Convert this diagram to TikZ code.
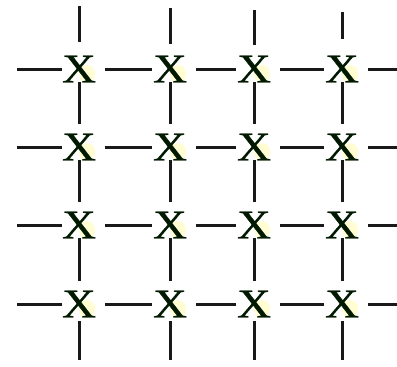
\documentclass[tikz,border=0pt]{standalone}
\usepackage{fontspec}
\setmainfont{Liberation Serif}
\newfontfamily\xfont[FakeBold=0.6]{Liberation Serif}
\begin{document}
\begin{tikzpicture}[x=1bp,y=-1bp,
  xnode/.style={inner sep=0pt, outer sep=0pt, text=black!80!green!50!black,
    font=\xfont\fontsize{41}{41}\selectfont, xscale=1.15,
    path picture={\fill[yellow!18] ([xshift=7bp,yshift=-5bp]path picture bounding box.center) ellipse (7bp and 9bp);}},
  gline/.style={line width=3bp, black!90}]
\useasboundingbox (0,0) rectangle (397,367);
\fill[white] (0,0) rectangle (397,367);
% nodes
\foreach \r/\yy in {1/69,2/147,3/225,4/304}{
  \foreach \c/\xx in {1/79,2/170,3/254,4/342}{
    \node[xnode] (n\r\c) at (\xx,\yy) {X};
  }
}
% free ends
\foreach \c/\xx/\ya/\yb in {1/79/6/42,2/170/8/44,3/254/10/45,4/342/12/39}{
  \coordinate (t\c) at (\xx,\ya);
  \coordinate (tb\c) at (\xx,\yb);
  \coordinate (b\c) at (\xx,360);
}
\foreach \r/\yy in {1/69,2/147,3/225,4/304}{
  \coordinate (l\r) at (17,\yy);
  \coordinate (r\r) at (397,\yy);
}
% top and bottom stubs
\foreach \c in {1,2,3,4}{
  \draw[gline] (t\c) -- (tb\c);
  \draw[gline,shorten <=4bp] (n4\c.south) -- (b\c);
}
% left and right stubs
\foreach \r in {1,2,3,4}{
  \draw[gline] (l\r) -- (n\r1.west);
  \draw[gline,shorten <=9bp] (n\r4.east) -- (r\r);
}
% horizontal connectors
\foreach \r in {1,2,3,4}{
  \draw[gline,shorten <=9bp,shorten >=1bp] (n\r1.east) -- (n\r2.west);
  \draw[gline,shorten <=9bp,shorten >=1bp] (n\r2.east) -- (n\r3.west);
  \draw[gline,shorten <=9bp,shorten >=1bp] (n\r3.east) -- (n\r4.west);
}
% vertical connectors
\foreach \c in {1,2,3,4}{
  \draw[gline,shorten >=10bp] (n1\c.south) -- (n2\c.north);
  \draw[gline,shorten >=10bp] (n2\c.south) -- (n3\c.north);
  \draw[gline,shorten >=10bp] (n3\c.south) -- (n4\c.north);
}
\end{tikzpicture}
\end{document}
